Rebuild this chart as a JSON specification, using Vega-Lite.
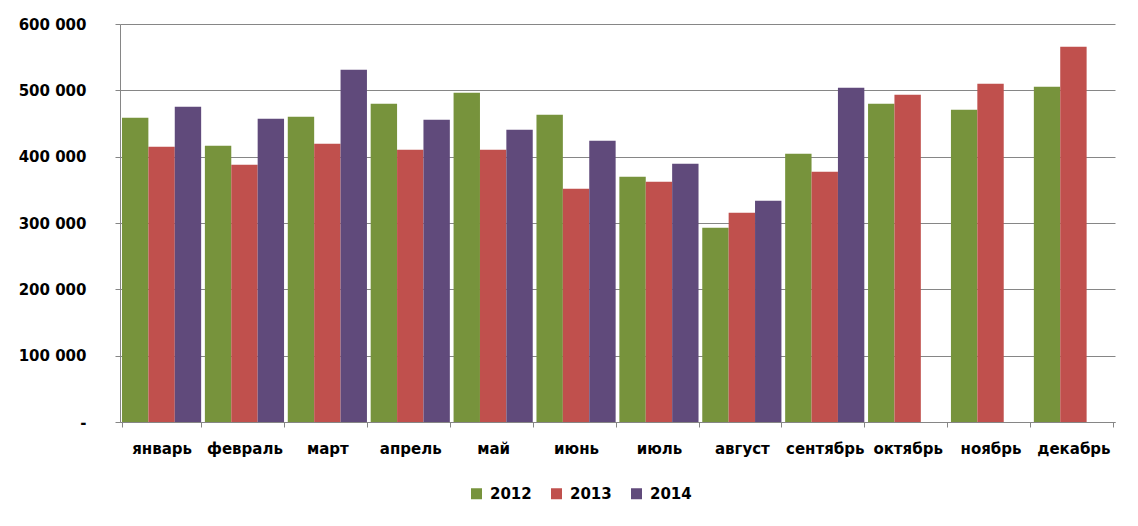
{
  "$schema": "https://vega.github.io/schema/vega-lite/v6.json",
  "autosize": {"type": "none"},
  "width": 995,
  "height": 398,
  "padding": {"left": 120, "top": 24, "right": 23, "bottom": 104},
  "background": "white",
  "config": {
    "view": {"stroke": null},
    "locale": {"number": {"decimal": ",", "thousands": " ", "grouping": [3], "currency": ["", ""]}},
    "font": "DejaVu Sans"
  },
  "data": {
    "values": [
      {"month": "январь", "year": "2012", "value": 458800},
      {"month": "январь", "year": "2013", "value": 415100},
      {"month": "январь", "year": "2014", "value": 475400},
      {"month": "февраль", "year": "2012", "value": 416600},
      {"month": "февраль", "year": "2013", "value": 387900},
      {"month": "февраль", "year": "2014", "value": 457300},
      {"month": "март", "year": "2012", "value": 460300},
      {"month": "март", "year": "2013", "value": 419600},
      {"month": "март", "year": "2014", "value": 531100},
      {"month": "апрель", "year": "2012", "value": 479900},
      {"month": "апрель", "year": "2013", "value": 410500},
      {"month": "апрель", "year": "2014", "value": 455800},
      {"month": "май", "year": "2012", "value": 496500},
      {"month": "май", "year": "2013", "value": 410500},
      {"month": "май", "year": "2014", "value": 440700},
      {"month": "июнь", "year": "2012", "value": 463300},
      {"month": "июнь", "year": "2013", "value": 351700},
      {"month": "июнь", "year": "2014", "value": 424100},
      {"month": "июль", "year": "2012", "value": 369800},
      {"month": "июль", "year": "2013", "value": 362300},
      {"month": "июль", "year": "2014", "value": 389400},
      {"month": "август", "year": "2012", "value": 293000},
      {"month": "август", "year": "2013", "value": 315600},
      {"month": "август", "year": "2014", "value": 333700},
      {"month": "сентябрь", "year": "2012", "value": 404500},
      {"month": "сентябрь", "year": "2013", "value": 377400},
      {"month": "сентябрь", "year": "2014", "value": 504000},
      {"month": "октябрь", "year": "2012", "value": 479900},
      {"month": "октябрь", "year": "2013", "value": 493500},
      {"month": "ноябрь", "year": "2012", "value": 470800},
      {"month": "ноябрь", "year": "2013", "value": 510000},
      {"month": "декабрь", "year": "2012", "value": 505500},
      {"month": "декабрь", "year": "2013", "value": 565800}
    ]
  },
  "mark": {"type": "bar"},
  "encoding": {
    "x": {
      "field": "month",
      "type": "nominal",
      "sort": null,
      "scale": {"paddingInner": 0.045, "paddingOuter": 0.024},
      "axis": {
        "title": null,
        "labelAngle": 0,
        "labelFont": "DejaVu Sans",
        "labelFontSize": 15,
        "labelFontWeight": "bold",
        "labelColor": "#000000",
        "labelPadding": 14,
        "tickBand": "extent",
        "tickSize": 5,
        "tickColor": "#868686",
        "domainColor": "#868686",
        "grid": false
      }
    },
    "xOffset": {"field": "year", "type": "nominal", "scale": {"paddingInner": 0, "paddingOuter": 0}},
    "y": {
      "field": "value",
      "type": "quantitative",
      "scale": {"domain": [0, 600000], "nice": false},
      "axis": {
        "title": null,
        "values": [0, 100000, 200000, 300000, 400000, 500000, 600000],
        "format": ",d",
        "labelExpr": "datum.value === 0 ? '-\u00a0\u00a0' : datum.label",
        "labelFont": "DejaVu Sans",
        "labelFontSize": 15,
        "labelFontWeight": "bold",
        "labelColor": "#000000",
        "labelPadding": 29,
        "tickSize": 5,
        "tickColor": "#868686",
        "domainColor": "#868686",
        "gridColor": "#868686",
        "gridWidth": 1
      }
    },
    "color": {
      "field": "year",
      "type": "nominal",
      "scale": {"domain": ["2012", "2013", "2014"], "range": ["#77933C", "#C0504D", "#604A7B"]},
      "legend": {
        "title": null,
        "orient": "none",
        "legendX": 349,
        "legendY": 462,
        "direction": "horizontal",
        "symbolType": "square",
        "symbolSize": 121,
        "symbolStrokeWidth": 0,
        "labelFont": "DejaVu Sans",
        "labelFontSize": 15,
        "labelFontWeight": "bold",
        "labelColor": "#000000",
        "labelOffset": 6,
        "columnPadding": 17
      }
    }
  }
}
